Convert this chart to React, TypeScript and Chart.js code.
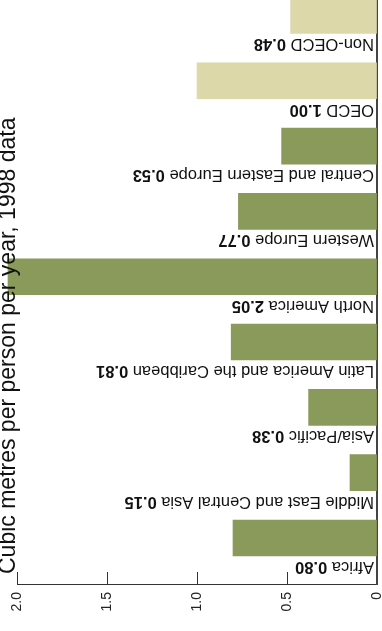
import { useEffect, useRef } from 'react';
import { Chart, registerables } from 'chart.js';

Chart.register(...registerables);

const FONT = '"Liberation Sans", Arial, Helvetica, sans-serif';

const chartTitle = 'Cubic metres per person per year, 1998 data';
const regions = [
  'Africa',
  'Middle East and Central Asia',
  'Asia/Pacific',
  'Latin America and the Caribbean',
  'North America',
  'Western Europe',
  'Central and Eastern Europe',
  'OECD',
  'Non-OECD',
];
const values = [0.8, 0.15, 0.38, 0.81, 2.05, 0.77, 0.53, 1.0, 0.48];
const valueLabels = ['0.80', '0.15', '0.38', '0.81', '2.05', '0.77', '0.53', '1.00', '0.48'];
const groups = ['region', 'region', 'region', 'region', 'region', 'region', 'region', 'aggregate', 'aggregate'];
const xTickValues = [0, 0.5, 1.0, 1.5, 2.0];
const xTickLabels = ['0', '0.5', '1.0', '1.5', '2.0'];

const GREEN = '#8a9a5b';
const PALE = '#ddd8aa';

const barLabelPlugin = {
  id: 'barLabels',
  afterDatasetsDraw(chart: any) {
    const { ctx, scales } = chart;
    const meta = chart.getDatasetMeta(0);
    const x0 = scales.x.getPixelForValue(0);
    ctx.save();
    meta.data.forEach((bar: any, i: number) => {
      const { y, height } = bar.getProps(['y', 'height'], true);
      ctx.save();
      ctx.translate(x0 - 3, y + height / 2 + 6);
      ctx.rotate(Math.PI);
      ctx.textAlign = 'left';
      ctx.textBaseline = 'alphabetic';
      ctx.fillStyle = '#111';
      ctx.font = `16.5px ${FONT}`;
      const name = regions[i] + ' ';
      ctx.fillText(name, 0, 0);
      const w = ctx.measureText(name).width;
      ctx.font = `bold 16.5px ${FONT}`;
      ctx.fillText(valueLabels[i], w, 0);
      ctx.restore();
    });
    ctx.restore();
  },
};

const sideTitlePlugin = {
  id: 'sideTitle',
  afterDraw(chart: any) {
    const { ctx } = chart;
    ctx.save();
    ctx.translate(15, 574);
    ctx.rotate(-Math.PI / 2);
    ctx.textAlign = 'left';
    ctx.textBaseline = 'alphabetic';
    ctx.fillStyle = '#111';
    ctx.font = `23px ${FONT}`;
    ctx.fillText(chartTitle, 0, 0);
    ctx.restore();
  },
};

export default function App() {
  const canvasRef = useRef<HTMLCanvasElement | null>(null);

  useEffect(() => {
    const canvas = canvasRef.current;
    if (!canvas) return;
    const chart = new Chart(canvas, {
      type: 'bar',
      data: {
        datasets: [
          {
            data: values.map((v, i) => ({ x: v, y: i })),
            backgroundColor: groups.map((g) => (g === 'aggregate' ? PALE : GREEN)),
            borderWidth: 0,
            barThickness: 36,
            clip: false,
          } as any,
        ],
      },
      options: {
        animation: false,
        responsive: false,
        indexAxis: 'y',
        layout: { padding: { left: 17, right: 5, top: 0, bottom: 0 } },
        plugins: {
          legend: { display: false },
          tooltip: { enabled: false },
          title: { display: false },
        },
        scales: {
          x: {
            type: 'linear',
            position: 'bottom',
            reverse: true,
            min: 0,
            max: 2,
            afterBuildTicks: (scale: any) => {
              scale.ticks = xTickValues.map((v) => ({ value: v }));
            },
            afterFit: (scale: any) => {
              scale.height = 47;
            },
            ticks: {
              minRotation: 90,
              maxRotation: 90,
              padding: 20,
              color: '#222',
              font: { size: 14, family: FONT },
              callback: (v: any) => {
                const idx = xTickValues.indexOf(Number(v));
                return idx >= 0 ? xTickLabels[idx] : '';
              },
            },
            grid: {
              drawOnChartArea: false,
              drawTicks: true,
              tickLength: -12,
              color: '#333',
              lineWidth: 1,
            },
            border: { display: true, color: '#333', width: 1 },
          },
          y: {
            type: 'linear',
            position: 'right',
            offset: false,
            min: -0.704,
            max: 8.236,
            ticks: { display: false },
            grid: { display: false, drawTicks: false, offset: false },
            border: { display: true, color: '#444', width: 2 },
          },
        },
      } as any,
      plugins: [barLabelPlugin, sideTitlePlugin],
    });
    return () => chart.destroy();
  }, []);

  return (
    <div style={{ position: 'fixed', left: 0, top: 0, width: 382, height: 631, background: '#fff' }}>
      <canvas ref={canvasRef} width={382} height={631} style={{ display: 'block' }} />
    </div>
  );
}
